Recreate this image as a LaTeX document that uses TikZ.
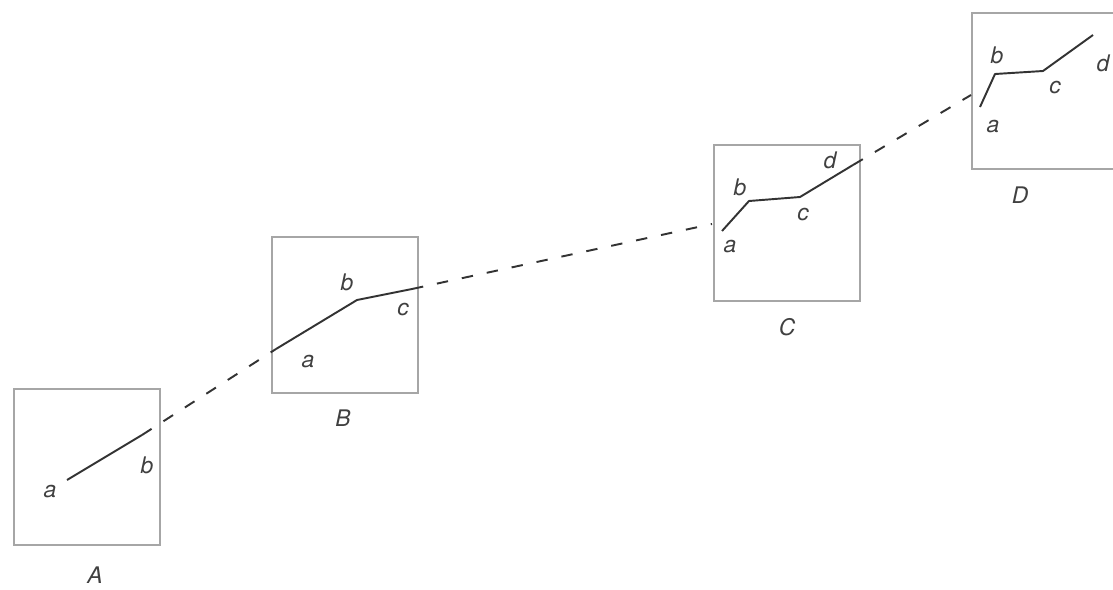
\documentclass[tikz,border=0pt]{standalone}
\usepackage{fontspec}
\setmainfont{TeX Gyre Heros}

\begin{document}
\begin{tikzpicture}[x=0.02cm, y=-0.02cm]
    \tikzset{
        every node/.style={font=\fontsize{13}{15}\selectfont\itshape, text=black!75},
        frame/.style={draw=black!35, line width=0.8pt, minimum width=2.92cm, minimum height=3.12cm, inner sep=0pt},
        path/.style={draw=black!80, line width=1.1pt, line join=round},
        link/.style={draw=black!80, line width=1.1pt, dash pattern=on 6.5pt off 8pt}
    }

    % picture size
    \useasboundingbox (0,0) rectangle (1113,589);
    \clip (0,0) rectangle (1113,589);

    % draw boxes
    \node[frame] (boxA) at (87,467) {};
    \node[frame] (boxB) at (345,315) {};
    \node[frame] (boxC) at (787,223) {};
    \node[frame] (boxD) at (1045,91) {};
    \node (labA) at (95,575) {A};
    \node (labB) at (343,418) {B};
    \node (labC) at (787,327) {C};
    \node (labD) at (1020,195) {D};

    % points of the paths
    \coordinate (Aa) at (67,480);  \coordinate (Ab) at (142,435);
    \coordinate (Ba) at (276,349); \coordinate (Bb) at (357,300); \coordinate (Bc) at (412,289);
    \coordinate (Ca) at (722,231); \coordinate (Cb) at (749,201); \coordinate (Cc) at (800,197); \coordinate (Cd) at (853,165);
    \coordinate (Da) at (980,107); \coordinate (Db) at (995,74);  \coordinate (Dc) at (1043,71); \coordinate (Dd) at (1093,35);
    \coordinate (Cout) at (712,224);
    \coordinate (Dout) at (971,95);

    % draw solid paths in the boxes
    \draw[path] (Aa) -- (Ab);
    \draw[path] (Ba) -- (Bb) -- (Bc);
    \draw[path] (Ca) -- (Cb) -- (Cc) -- (Cd);
    \draw[path] (Da) -- (Db) -- (Dc) -- (Dd);

    % draw dashed links between boxes
    \draw[link] (Ab) -- (Ba);
    \draw[link] (Bc) -- (Cout);
    \draw[link] (Cd) -- (Dout);

    % labels of the points
    \node (Aal) at (50,492) {a};  \node (Abl) at (147,465) {b};
    \node (Bal) at (308,362) {a}; \node (Bbl) at (347,282) {b}; \node (Bcl) at (403,310) {c};
    \node (Cal) at (730,247) {a}; \node (Cbl) at (740,187) {b}; \node (Ccl) at (803,215) {c}; \node (Cdl) at (830,160) {d};
    \node (Dal) at (993,127) {a}; \node (Dbl) at (997,55) {b};  \node (Dcl) at (1055,88) {c}; \node (Ddl) at (1103,63) {d};

\end{tikzpicture}
\end{document}
